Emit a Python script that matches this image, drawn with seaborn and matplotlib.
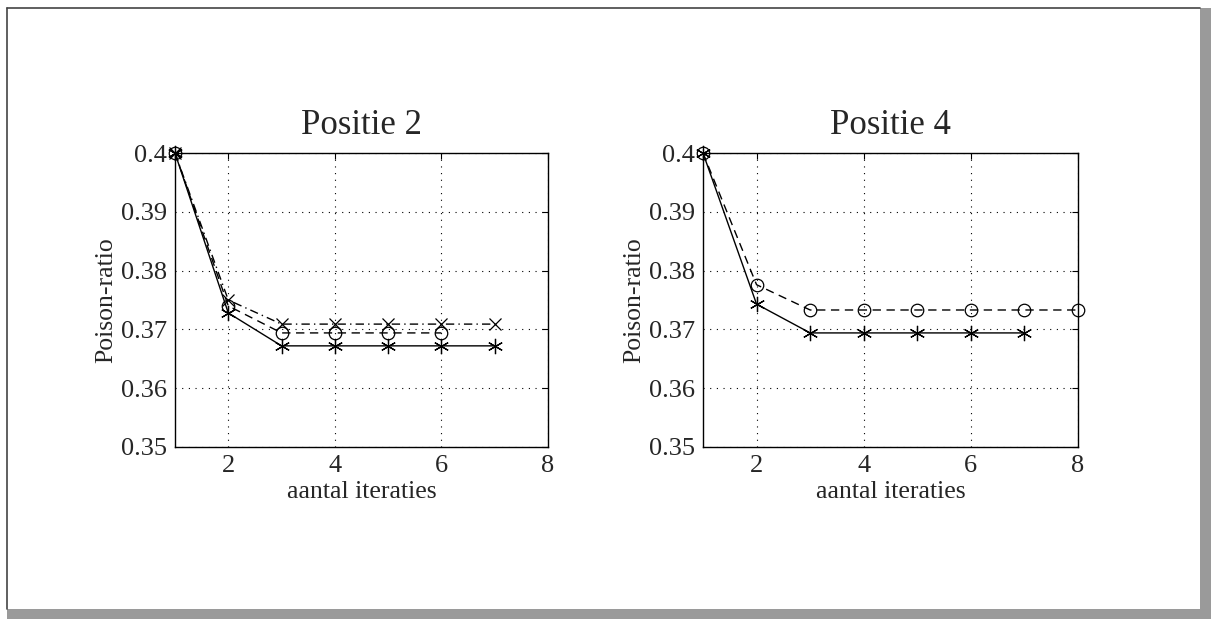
import matplotlib
matplotlib.use("Agg")
import matplotlib.pyplot as plt
import numpy as np
import pandas as pd
import seaborn as sns

# Positie 2: three runs
pos2_iter_a = [1, 2, 3, 4, 5, 6, 7]
pos2_star = [0.400, 0.3728, 0.3672, 0.3672, 0.3672, 0.3672, 0.3672]
pos2_iter_b = [1, 2, 3, 4, 5, 6, 7]
pos2_cross = [0.400, 0.3750, 0.3709, 0.3709, 0.3709, 0.3709, 0.3709]
pos2_iter_c = [1, 2, 3, 4, 5, 6]
pos2_circle = [0.400, 0.3740, 0.3694, 0.3694, 0.3694, 0.3694]

# Positie 4: two runs
pos4_iter_a = [1, 2, 3, 4, 5, 6, 7]
pos4_star = [0.400, 0.3743, 0.3694, 0.3694, 0.3694, 0.3694, 0.3694]
pos4_iter_b = [1, 2, 3, 4, 5, 6, 7, 8]
pos4_circle = [0.400, 0.3776, 0.3733, 0.3733, 0.3733, 0.3733, 0.3733, 0.3733]

titles = ["Positie 2", "Positie 4"]
xticks = [2, 4, 6, 8]
yticks = [0.35, 0.36, 0.37, 0.38, 0.39, 0.40]
ytick_labels = ["0.35", "0.36", "0.37", "0.38", "0.39", "0.4"]

sns.set_style("white")
plt.rcParams["font.family"] = ["Liberation Serif", "DejaVu Serif"]

fig = plt.figure(figsize=(12.11, 6.19), dpi=100)
ax1 = fig.add_axes([0.1445, 0.2779, 0.3080, 0.4749])
ax2 = fig.add_axes([0.5805, 0.2779, 0.3097, 0.4749])

asterisk = (6, 2, 0)


def draw(ax, xs, ys, ls, marker, ms):
    df = pd.DataFrame({"iter": xs, "ratio": ys})
    sns.lineplot(data=df, x="iter", y="ratio", ax=ax, color="black",
                 linestyle=ls, linewidth=1.0, marker=marker, markersize=ms,
                 markerfacecolor="none", markeredgecolor="black",
                 markeredgewidth=0.9, clip_on=False, zorder=3)


draw(ax1, pos2_iter_c, pos2_circle, (0, (6, 4)), "o", 9)
draw(ax1, pos2_iter_b, pos2_cross, (0, (6, 3, 1, 3)), "x", 9)
draw(ax1, pos2_iter_a, pos2_star, "-", asterisk, 11)

draw(ax2, pos4_iter_b, pos4_circle, (0, (6, 4)), "o", 9)
draw(ax2, pos4_iter_a, pos4_star, "-", asterisk, 11)

for ax, title in zip([ax1, ax2], titles):
    ax.set_xlim(1, 8)
    ax.set_ylim(0.35, 0.40)
    ax.set_xticks(xticks)
    ax.set_yticks(yticks)
    ax.set_yticklabels(ytick_labels)
    ax.tick_params(direction="in", top=True, right=True, length=4,
                   labelsize=19, pad=6, color="black")
    ax.grid(True, linestyle=(0, (1, 5)), color="black", linewidth=0.8)
    ax.set_title(title, fontsize=25, pad=14)
    ax.set_xlabel("aantal iteraties", fontsize=18.5, labelpad=3)
    ax.set_ylabel("Poison-ratio", fontsize=18.5, labelpad=2)
    for sp in ax.spines.values():
        sp.set_color("black")
        sp.set_linewidth(1.0)
        sp.set_visible(True)
    if ax.get_legend():
        ax.get_legend().remove()

# page frame: thin line top/left, grey band right/bottom
fig.add_artist(plt.Line2D([7 / 1211, 1200 / 1211], [1 - 8 / 619, 1 - 8 / 619],
                          transform=fig.transFigure, color="#444444", lw=1.2))
fig.add_artist(plt.Line2D([7 / 1211, 7 / 1211], [1 - 8 / 619, 1 - 609 / 619],
                          transform=fig.transFigure, color="#444444", lw=1.2))
fig.add_artist(plt.Rectangle((1200 / 1211, 0), 11 / 1211, 1 - 8 / 619,
                             transform=fig.transFigure, color="#9a9a9a", lw=0))
fig.add_artist(plt.Rectangle((7 / 1211, 0), 1204 / 1211, 10 / 619,
                             transform=fig.transFigure, color="#9a9a9a", lw=0))

fig.savefig("out.png", dpi=100)
